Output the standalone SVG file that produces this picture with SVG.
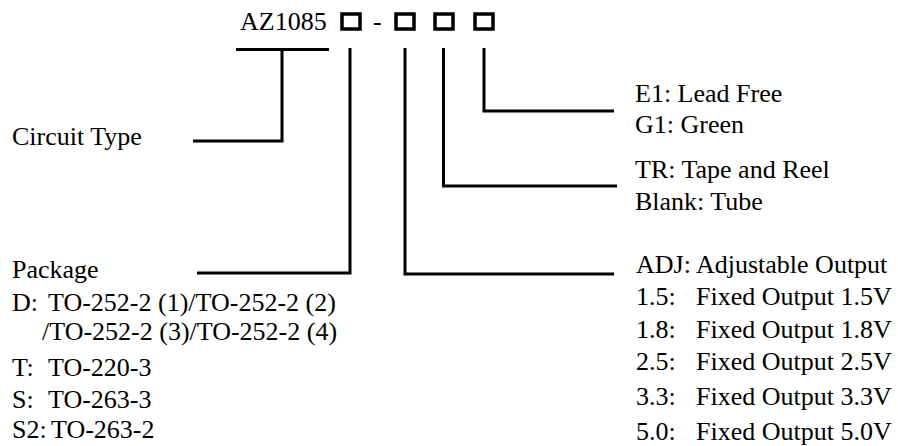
<svg xmlns="http://www.w3.org/2000/svg" width="898" height="446" viewBox="0 0 898 446">
<style>
text{font-family:"Liberation Serif","Times New Roman",serif;font-size:26px;fill:#000}
.ln{fill:none;stroke:#000;stroke-width:3}
.bx{fill:none;stroke:#000;stroke-width:3.5}
</style>
<rect width="898" height="446" fill="#fff"/>
<g id="code">
<text x="240" y="30">AZ1085</text>
<rect class="bx" x="342" y="14" width="18" height="15"/>
<text x="373" y="30">-</text>
<rect class="bx" x="396" y="14" width="18" height="15"/>
<rect class="bx" x="435" y="14" width="18" height="15"/>
<rect class="bx" x="475" y="14" width="18" height="15"/>
</g>
<g id="connectors">
<path class="ln" d="M236 49.5H329M282 49.5V141H193"/>
<path class="ln" d="M350 48V273H197"/>
<path class="ln" d="M405 48V274H614"/>
<path class="ln" d="M443.5 48V186H617"/>
<path class="ln" d="M484 48V111H614"/>
</g>
<g id="circuit-type">
<text x="12" y="145">Circuit Type</text>
</g>
<g id="package">
<text x="12" y="278">Package</text>
<text x="12" y="311">D:</text><text x="48" y="311">TO-252-2 (1)/TO-252-2 (2)</text>
<text x="42" y="340">/TO-252-2 (3)/TO-252-2 (4)</text>
<text x="12" y="376">T:</text><text x="48" y="376">TO-220-3</text>
<text x="12" y="408">S:</text><text x="48" y="408">TO-263-3</text>
<text x="12" y="438">S2:</text><text x="51" y="438">TO-263-2</text>
</g>
<g id="output">
<text x="636" y="273">ADJ: Adjustable Output</text>
<text x="636" y="305">1.5:</text><text x="696" y="305">Fixed Output 1.5V</text>
<text x="636" y="338">1.8:</text><text x="696" y="338">Fixed Output 1.8V</text>
<text x="636" y="370">2.5:</text><text x="696" y="370">Fixed Output 2.5V</text>
<text x="636" y="405">3.3:</text><text x="696" y="405">Fixed Output 3.3V</text>
<text x="636" y="440">5.0:</text><text x="696" y="440">Fixed Output 5.0V</text>
</g>
<g id="packing">
<text x="635" y="178">TR: Tape and Reel</text>
<text x="635" y="210">Blank: Tube</text>
</g>
<g id="lead">
<text x="635" y="102">E1: Lead Free</text>
<text x="635" y="133">G1: Green</text>
</g>
</svg>
